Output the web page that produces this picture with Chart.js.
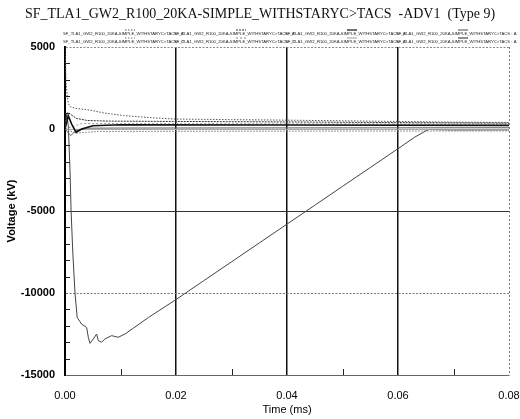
<!DOCTYPE html>
<html><head><meta charset="utf-8">
<script src="https://cdn.jsdelivr.net/npm/chart.js@4"></script>
<style>html,body{margin:0;padding:0;background:#fff;}#wrap{width:520px;height:419px;}</style>
</head><body><div id="wrap"><canvas id="c" width="520" height="419"></canvas></div>
<script>
const chartTitle = 'SF_TLA1_GW2_R100_20KA-SIMPLE_WITHSTARYC>TACS  -ADV1  (Type 9)';
const xTitle = 'Time (ms)';
const yTitle = 'Voltage (kV)';
const xTicks = [0, 0.02, 0.04, 0.06, 0.08];
const yTicks = [-15000, -10000, -5000, 0, 5000];
const xMinorTicks = [0.01, 0.03, 0.05, 0.07];
const yMinorTicks = [-14000,-13000,-12000,-11000,-9000,-8000,-7000,-6000,-4000,-3000,-2000,-1000,1000,2000,3000,4000];
const legendLabels = [
  'SF_TLA1_GW2_R100_20KA-SIMPLE_WITHSTARYC>TACS : A',
  'SF_TLA1_GW2_R100_20KA-SIMPLE_WITHSTARYC>TACS : A',
  'SF_TLA1_GW2_R100_20KA-SIMPLE_WITHSTARYC>TACS : A',
  'SF_TLA1_GW2_R100_20KA-SIMPLE_WITHSTARYC>TACS : A',
  'SF_TLA1_GW2_R100_20KA-SIMPLE_WITHSTARYC>TACS : C',
  'SF_TLA1_GW2_R100_20KA-SIMPLE_WITHSTARYC>TACS : C',
  'SF_TLA1_GW2_R100_20KA-SIMPLE_WITHSTARYC>TACS : A',
  'SF_TLA1_GW2_R100_20KA-SIMPLE_WITHSTARYC>TACS : A'
];

// series: time (ms) and voltage (kV)
const mainT = [0, 0.0003, 0.0006, 0.0009, 0.0011, 0.0014, 0.0018, 0.0022, 0.0030, 0.0039, 0.0042, 0.0045, 0.0051, 0.0057, 0.0060, 0.0066, 0.0072, 0.0084, 0.0096, 0.0108, 0.0123, 0.0150, 0.0200, 0.0250, 0.0300, 0.0350, 0.0400, 0.0450, 0.0500, 0.0550, 0.0600, 0.0630, 0.0655, 0.0700, 0.0800];
const mainV = [0, 900, 200, -2500, -5000, -7500, -10000, -11500, -11900, -12100, -12700, -13070, -12800, -12500, -12900, -13000, -12800, -12600, -12700, -12500, -12150, -11500, -10400, -9250, -8100, -6950, -5800, -4650, -3500, -2350, -1200, -500, -30, -60, -50];
const aT = [0, 0.0001, 0.0002, 0.0004, 0.0006, 0.001, 0.002, 0.003, 0.0045, 0.007, 0.0105, 0.015, 0.0195, 0.03, 0.04, 0.05, 0.06, 0.07, 0.08];
const aV = [5000, 4000, 2800, 2000, 1550, 1350, 1250, 1220, 1150, 980, 820, 700, 610, 570, 540, 500, 460, 420, 400];
const bT = [0, 0.0004, 0.001, 0.002, 0.004, 0.008, 0.02, 0.04, 0.06, 0.08];
const bV = [0, 1000, 900, 650, 520, 480, 460, 430, 390, 360];
const cT = [0, 0.0006, 0.0012, 0.002, 0.003, 0.005, 0.01, 0.04, 0.08];
const cV = [0, 800, 300, -200, 0, 200, 260, 240, 220];
const dT = [0, 0.001, 0.002, 0.004, 0.01, 0.08];
const dV = [0, -400, -100, 50, 60, 80];
const eT = [0, 0.002, 0.006, 0.04, 0.08];
const eV = [0, -250, -150, -130, -120];
const fT = [0, 0.003, 0.08];
const fV = [0, 330, 300];
const gT = [0, 0.08];
const gV = [-20, -20];

const pts = (T, V) => T.map((t, i) => ({x: t, y: V[i]}));
const near = (a, b) => Math.abs(a - b) < 1e-9;

Chart.defaults.font.family = "'Liberation Sans', Arial, sans-serif";
Chart.defaults.color = '#000';

const styles = [
  {c: '#555', w: 1, d: [1.5, 1.5]},
  {c: '#333', w: 1, d: [2, 1]},
  {c: '#111', w: 1.6, d: []},
  {c: '#666', w: 1, d: []},
  {c: '#777', w: 1, d: [1.5, 1.5]},
  {c: '#999', w: 1, d: [2, 2]},
  {c: '#aaa', w: 1, d: []},
  {c: '#444', w: 1, d: []}
];
const seriesData = [pts(aT, aV), pts(bT, bV), pts(cT, cV), pts(dT, dV), pts(eT, eV), pts(fT, fV), pts(gT, gV), pts(mainT, mainV)];

const datasets = seriesData.map((d, i) => ({
  label: legendLabels[i], data: d, borderColor: styles[i].c, borderWidth: styles[i].w,
  borderDash: styles[i].d, pointRadius: 0, tension: 0, fill: false
}));

const minorTicks = {
  id: 'minorTicks',
  afterDatasetsDraw(chart) {
    const {ctx, chartArea: a, scales: {x, y}} = chart;
    ctx.save();
    ctx.strokeStyle = '#222'; ctx.lineWidth = 1;
    ctx.beginPath();
    yMinorTicks.forEach(v => { const py = Math.round(y.getPixelForValue(v)) + 0.5; ctx.moveTo(a.left, py); ctx.lineTo(a.left + 5, py); });
    xMinorTicks.forEach(v => { const px = Math.round(x.getPixelForValue(v)) + 0.5; ctx.moveTo(px, a.bottom); ctx.lineTo(px, a.bottom - 6); });
    ctx.stroke();
    ctx.restore();
  }
};

const tinyLegend = {
  id: 'tinyLegend',
  afterDraw(chart) {
    const {ctx, chartArea: a} = chart;
    ctx.save();
    ctx.font = '4.2px "Liberation Sans"';
    ctx.fillStyle = '#222';
    ctx.textBaseline = 'middle';
    const w = (a.right - a.left) / 4;
    legendLabels.forEach((t, i) => {
      const row = Math.floor(i / 4), col = i % 4;
      const lx = a.left - 2 + col * w, ly = a.top - 13 + row * 8;
      ctx.fillText(t, lx, ly);
      const s = styles[i];
      ctx.strokeStyle = s.c; ctx.lineWidth = 1.2; ctx.setLineDash(s.d);
      ctx.beginPath(); ctx.moveTo(lx + 62, ly - 4); ctx.lineTo(lx + 72, ly - 4); ctx.stroke();
    });
    ctx.restore();
  }
};

new Chart(document.getElementById('c'), {
  type: 'line',
  data: {datasets},
  options: {
    responsive: false, animation: false,
    layout: {padding: 0},
    plugins: {
      legend: {display: false},
      tooltip: {enabled: false},
      title: {display: true, text: chartTitle, color: '#111', font: {family: "'Liberation Serif', serif", size: 14, weight: 'normal'}, padding: {top: 6, bottom: 24.2}}
    },
    scales: {
      x: {
        type: 'linear', min: 0, max: 0.08,
        afterBuildTicks: s => { s.ticks = xTicks.map(v => ({value: v})); },
        afterFit: s => { s.height = 44; s.paddingLeft = 0; s.paddingRight = 11; },
        ticks: {callback: v => Number(v).toFixed(2), font: {size: 11}, color: '#000', padding: 14, maxRotation: 0},
        grid: {
          drawTicks: false,
          color: c => near(c.tick.value, 0) ? 'rgba(0,0,0,0)' : (near(c.tick.value, 0.08) ? '#777' : '#111'),
          lineWidth: c => near(c.tick.value, 0.08) ? 1 : 1.5
        },
        border: {display: true, color: '#666', width: 1, dash: c => (c.tick && near(c.tick.value, 0.08)) ? [2, 2] : []},
        title: {display: true, text: xTitle, font: {size: 11}, color: '#000', padding: {top: 2.4, bottom: 2.4}}
      },
      y: {
        min: -15000, max: 5000,
        afterBuildTicks: s => { s.ticks = yTicks.map(v => ({value: v})); },
        afterFit: s => { s.width = 65; s.paddingTop = 0; s.paddingBottom = 0; },
        ticks: {callback: v => String(v), font: {size: 11, weight: 'bold'}, color: '#000', padding: 10},
        grid: {
          drawTicks: false,
          color: c => {
            const v = c.tick.value;
            if (near(v, -15000)) return 'rgba(0,0,0,0)';
            if (near(v, -5000)) return '#333';
            if (near(v, -10000)) return '#777';
            return '#888';
          },
          lineWidth: 1
        },
        border: {display: true, color: '#000', width: 2, dash: c => (c.tick && !near(c.tick.value, -5000)) ? [2, 1.5] : []},
        title: {display: true, text: yTitle, font: {size: 11, weight: 'bold'}, color: '#000', padding: {top: 5.4, bottom: 5.4}}
      }
    }
  },
  plugins: [minorTicks, tinyLegend]
});
</script>
</body></html>
